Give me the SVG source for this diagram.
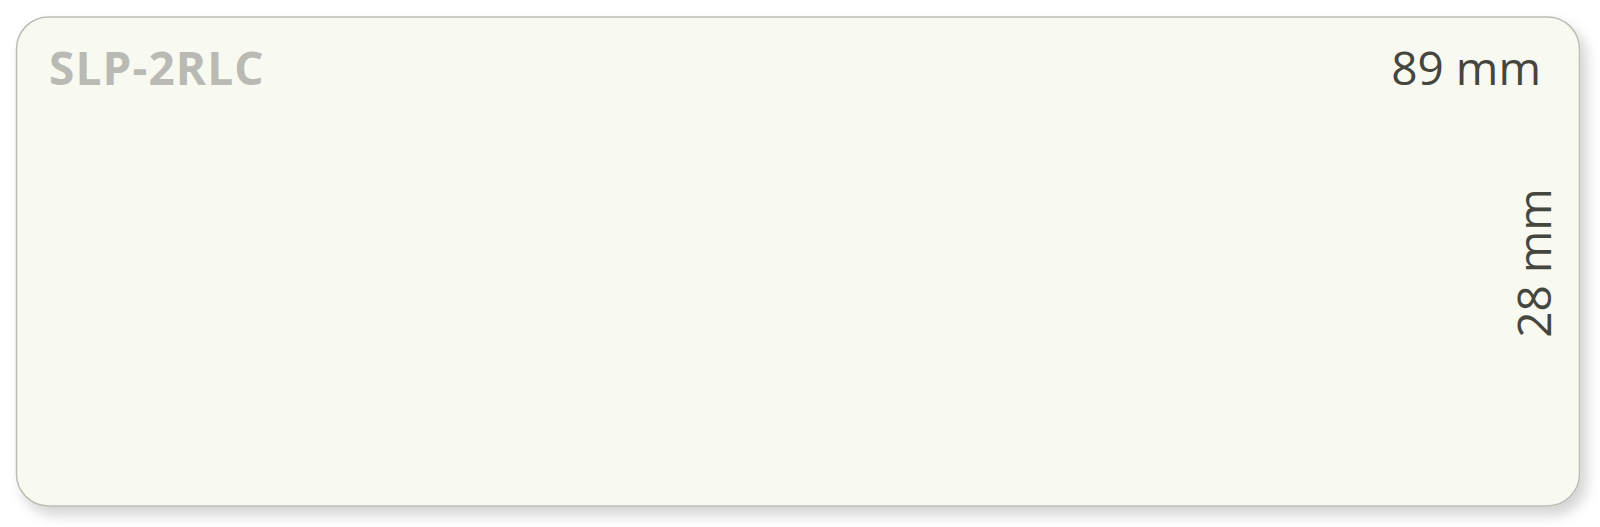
<svg xmlns="http://www.w3.org/2000/svg" width="1600" height="527" viewBox="0 0 1600 527">
<defs>
<filter id="sh" x="-5%" y="-10%" width="115%" height="130%">
<feGaussianBlur in="SourceAlpha" stdDeviation="7"/>
<feOffset dx="6" dy="8" result="b"/>
<feComponentTransfer><feFuncA type="linear" slope="0.18"/></feComponentTransfer>
<feMerge><feMergeNode/><feMergeNode in="SourceGraphic"/></feMerge>
</filter>
<style>
.lbl{font-family:"Open Sans","Liberation Sans",sans-serif;font-size:46px;}
.title{font-weight:bold;fill:#b9bab3;letter-spacing:1.1px;}
.dim{fill:#45463d;}
</style>
</defs>
<rect width="1600" height="527" fill="#ffffff"/>
<g id="label">
<rect x="16.5" y="17" width="1563" height="489" rx="32" ry="32" fill="#f8f9f1" stroke="#bdbdb6" stroke-width="1.5" filter="url(#sh)"/>
</g>
<g id="title"><text class="lbl title" x="49" y="85">SLP-2RLC</text></g>
<g id="width"><text class="lbl dim" x="1541" y="85" text-anchor="end">89 mm</text></g>
<g id="height"><text class="lbl dim" transform="translate(1551,263) rotate(-90)" text-anchor="middle">28 mm</text></g>
</svg>
